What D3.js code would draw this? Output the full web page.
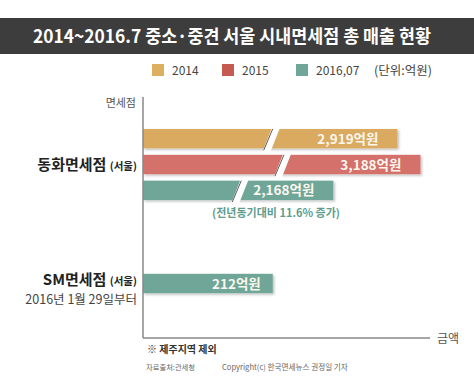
<!DOCTYPE html>
<html>
<head>
<meta charset="utf-8">
<script src="https://cdn.jsdelivr.net/npm/d3@7"></script>
<style>
  body { margin: 0; background: #fff; }
  text { font-family: "Noto Sans CJK KR", "Noto Sans", sans-serif; }
</style>
</head>
<body>
<div id="chart"></div>
<script>
// data
const stores = ["동화면세점", "SM면세점"];
const years = ["2014", "2015", "2016.07"];
const dongwhaValues = [2919, 3188, 2168];
const smValues = [null, null, 212];
const valueLabels = ["2,919억원", "3,188억원", "2,168억원"];
const smLabels = [null, null, "212억원"];
const colors = ["#d9aa60", "#d3716a", "#6fa698"];
const legendColors = ["#ddb060", "#c65a50", "#6fa698"];

const width = 474, height = 377;
const svg = d3.select("#chart").append("svg")
    .attr("width", width)
    .attr("height", height);

// title bar
svg.append("rect")
    .attr("x", 0).attr("y", 18)
    .attr("width", width).attr("height", 36)
    .attr("fill", "#3d3d3d");
svg.append("text")
    .attr("x", 33).attr("y", 43)
    .attr("fill", "#fff")
    .attr("textLength", 398)
    .attr("lengthAdjust", "spacingAndGlyphs")
    .style("font-size", "18.5px")
    .style("font-weight", "bold")
    .text("2014~2016.7 중소·중견 서울 시내면세점 총 매출 현황");

// legend
const legendX = [152, 222, 296];
years.forEach((y, i) => {
    svg.append("rect")
        .attr("x", legendX[i]).attr("y", 64)
        .attr("width", 12).attr("height", 12)
        .attr("fill", legendColors[i]);
    svg.append("text")
        .attr("x", legendX[i] + 20).attr("y", 75)
        .attr("fill", "#444")
        .style("font-size", "12px")
        .text(y.replace(".", ","));
});
svg.append("text")
    .attr("x", 432).attr("y", 75)
    .attr("text-anchor", "end")
    .attr("fill", "#444")
    .style("font-size", "12.5px")
    .text("(단위:억원)");

// scales (broken value axis)
const axisX = 143, axisTop = 97, axisBottom = 338;
const x = d3.scaleLinear()
    .domain([0, 250, 2000, 3300])
    .range([axisX, axisX + 153, axisX + 176, axisX + 287]);

const y = d3.scaleBand()
    .domain(stores)
    .range([105, 343]);

const inner = d3.scaleBand()
    .domain(years)
    .range([-42, 42])
    .padding(0.25);

// shadow
const defs = svg.append("defs");
const f = defs.append("filter").attr("id", "shadow")
    .attr("x", "-5%").attr("y", "-20%").attr("width", "110%").attr("height", "150%");
f.append("feDropShadow")
    .attr("dx", 1.5).attr("dy", 1.5).attr("stdDeviation", 1)
    .attr("flood-color", "#000").attr("flood-opacity", 0.25);

function drawGroup(store, values, labels) {
    const cy = y(store) + y.bandwidth() / 2;
    const items = values.map((v, i) => ({ v, i, label: labels[i] })).filter(d => d.v != null);
    const g = svg.append("g");
    items.forEach(d => {
        const bh = inner.bandwidth();
        const by = items.length === 1 ? cy - bh / 2 : cy + inner(years[d.i]);
        const x1 = x(d.v);
        g.append("rect")
            .attr("x", axisX).attr("y", by)
            .attr("width", x1 - axisX).attr("height", bh)
            .attr("fill", colors[d.i])
            .attr("filter", "url(#shadow)");
        // break mark for shortened bars
        if (items.length > 1) {
            const bx = axisX + (x1 - axisX) * 0.49;
            const sl = 5, gw = 8;
            const top = by - 3, bot = by + bh + 3;
            g.append("path")
                .attr("d", `M${bx + sl},${top} L${bx + sl + gw},${top} L${bx - sl + gw},${bot} L${bx - sl},${bot} Z`)
                .attr("fill", "#fff");
            g.append("line")
                .attr("x1", bx + sl).attr("y1", by)
                .attr("x2", bx - sl + 1).attr("y2", by + bh + 2)
                .attr("stroke", "#333").attr("stroke-width", 0.8);
        }
        g.append("text")
            .attr("x", x1 - (items.length === 1 ? 12 : 19))
            .attr("y", by + bh / 2 + 5)
            .attr("text-anchor", "end")
            .attr("fill", "#fbf6ee")
            .style("font-size", "13.5px")
            .style("font-weight", "bold")
            .text(d.label);
    });
    return cy;
}

const cy1 = drawGroup(stores[0], dongwhaValues, valueLabels);
const cy2 = drawGroup(stores[1], smValues, smLabels);

// axis lines
svg.append("line")
    .attr("x1", axisX).attr("y1", axisTop)
    .attr("x2", axisX).attr("y2", axisBottom)
    .attr("stroke", "#888").attr("stroke-width", 1.5);
svg.append("line")
    .attr("x1", axisX).attr("y1", axisBottom)
    .attr("x2", 430).attr("y2", axisBottom)
    .attr("stroke", "#888").attr("stroke-width", 1.5);
svg.append("text")
    .attr("x", 136).attr("y", 107)
    .attr("text-anchor", "end")
    .attr("fill", "#555")
    .style("font-size", "11px")
    .text("면세점");
svg.append("text")
    .attr("x", 437).attr("y", 343)
    .attr("fill", "#555")
    .style("font-size", "12px")
    .text("금액");

// category labels
const lab1 = svg.append("text")
    .attr("x", 137).attr("y", cy1 + 5)
    .attr("text-anchor", "end")
    .attr("fill", "#222")
    .style("font-weight", "bold");
lab1.append("tspan").style("font-size", "15px").text("동화면세점 ");
lab1.append("tspan").style("font-size", "10.5px").text("(서울)");

const lab2 = svg.append("text")
    .attr("x", 137).attr("y", cy2 + 1)
    .attr("text-anchor", "end")
    .attr("fill", "#222")
    .style("font-weight", "bold");
lab2.append("tspan").style("font-size", "15px").text("SM면세점 ");
lab2.append("tspan").style("font-size", "10.5px").text("(서울)");
svg.append("text")
    .attr("x", 137).attr("y", cy2 + 20)
    .attr("text-anchor", "end")
    .attr("fill", "#444")
    .style("font-size", "12.5px")
    .text("2016년 1월 29일부터");

// annotation
svg.append("text")
    .attr("x", 276).attr("y", 217)
    .attr("text-anchor", "middle")
    .attr("fill", "#5e9d8e")
    .style("font-size", "11px")
    .style("font-weight", "bold")
    .text("(전년동기대비 11.6% 증가)");

// footer
svg.append("text")
    .attr("x", 147).attr("y", 353)
    .attr("fill", "#333")
    .style("font-size", "10px")
    .style("font-weight", "bold")
    .text("※ 제주지역 제외");
svg.append("text")
    .attr("x", 146).attr("y", 370)
    .attr("fill", "#666")
    .style("font-size", "7.3px")
    .text("자료출처:관세청");
svg.append("text")
    .attr("x", 222).attr("y", 370)
    .attr("fill", "#666")
    .style("font-size", "7.6px")
    .text("Copyright(c) 한국면세뉴스 권정일 기자");
</script>
</body>
</html>
